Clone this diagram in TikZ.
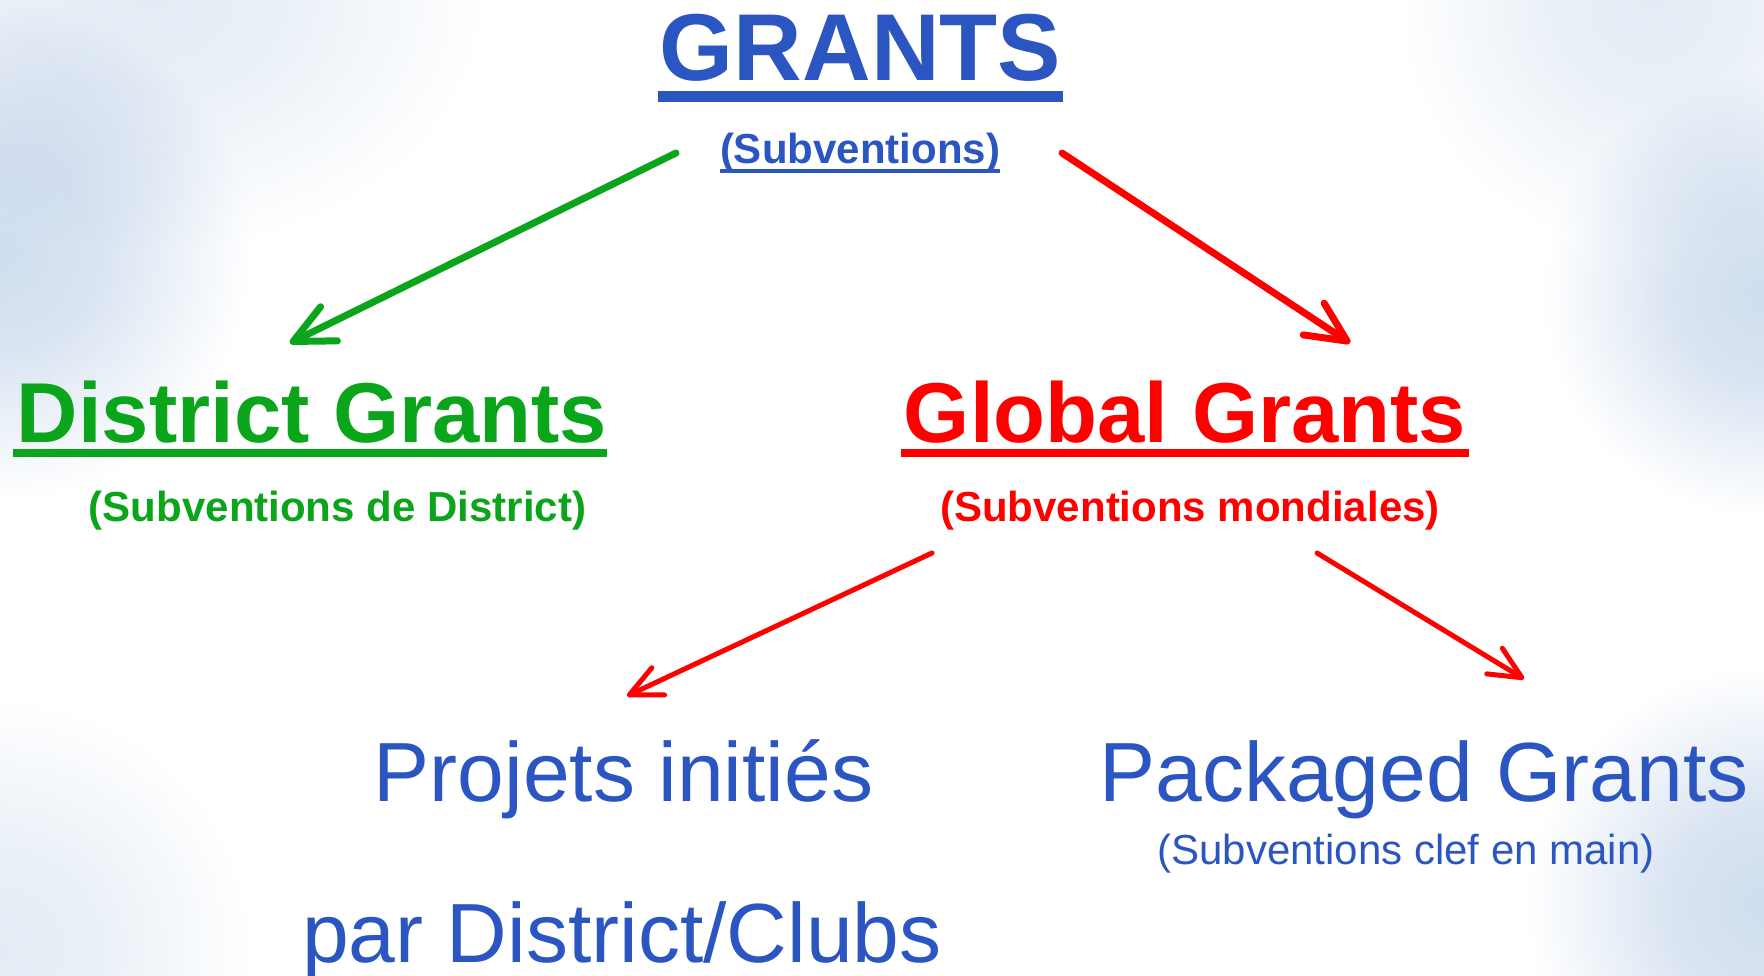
\documentclass[tikz,border=0pt]{standalone}
\usepackage{fontspec}
\setmainfont{Liberation Sans}
\usetikzlibrary{arrows.meta,calc}
\definecolor{tblue}{HTML}{2B55C0}
\definecolor{tgreen}{HTML}{0AA51A}
\definecolor{tred}{HTML}{FF0000}
\definecolor{sky}{HTML}{CFDDEE}
\definecolor{skyl}{HTML}{E4ECF5}
\pgfdeclareradialshading{skyfade}{\pgfpoint{0bp}{0bp}}{color(0bp)=(sky); color(8bp)=(sky!80!white); color(21bp)=(white); color(50bp)=(white)}
\pgfdeclareradialshading{skyfadel}{\pgfpoint{0bp}{0bp}}{color(0bp)=(skyl); color(8bp)=(skyl!80!white); color(21bp)=(white); color(50bp)=(white)}
\tikzset{
  lbl/.style={inner sep=0pt, anchor=base},
  huge/.style={lbl, font=\fontsize{95}{95}\selectfont\bfseries},
  big/.style={lbl, font=\fontsize{85}{85}\selectfont\bfseries},
  sub/.style={lbl, font=\fontsize{42}{42}\selectfont\bfseries},
  plain/.style={lbl, font=\fontsize{84}{84}\selectfont},
  plainsub/.style={lbl, font=\fontsize{42}{42}\selectfont},
  thickarr/.style={line width=7pt, line cap=round, -{Straight Barb[length=40pt,width=38pt,line cap=round,round]}},
  thinarr/.style={line width=5pt, line cap=round, -{Straight Barb[length=32pt,width=30pt,line cap=round,round]}}
}
\begin{document}
\begin{tikzpicture}[x=1pt,y=-1pt]
\useasboundingbox (0,0) rectangle (1764,976);
\clip (0,0) rectangle (1764,976);
\fill[white] (0,0) rectangle (1764,976);
% sky tint
\begin{scope}[blend mode=multiply]
\shade[shading=skyfade] (-300,-50) rectangle (300,550);
\shade[shading=skyfadel] (-250,-300) rectangle (550,300);
\shade[shading=skyfade] (1500,30) rectangle (2030,560);
\shade[shading=skyfadel] (1350,-300) rectangle (1950,300);
\shade[shading=skyfade] (1480,620) rectangle (2050,1190);
\shade[shading=skyfadel] (-300,650) rectangle (300,1250);
\end{scope}

% texts
\node[huge, text=tblue] (grants) at (860.5,81) {GRANTS};
\node[sub, text=tblue] (subv) at (860,164) {(Subventions)};
\node[big, text=tgreen] (district) at (312,442) {District Grants};
\node[big, text=tred] (global) at (1185,442) {Global Grants};
\node[sub, text=tgreen] (subdist) at (337.5,521) {(Subventions de District)};
\node[sub, text=tred] (submond) at (1190,521) {(Subventions mondiales)};
\node[plain, text=tblue] (projets) at (623.5,801) {Projets initiés};
\node[plain, text=tblue] (par) at (622,962) {par District/Clubs};
\node[plain, text=tblue] (packaged) at (1424,801) {Packaged Grants};
\node[plainsub, text=tblue] (clef) at (1406,864) {(Subventions clef en main)};

% underlines
\fill[tblue] ($(grants.base west)+(-2,10)$) rectangle ($(grants.base east)+(2,21)$);
\fill[tblue] ($(subv.base west)+(0,5)$) rectangle ($(subv.base east)+(0,9)$);
\fill[tgreen] ($(district.base west)+(-4,7)$) rectangle ($(district.base east)+(0,15)$);
\fill[tred] ($(global.base west)+(-3,7)$) rectangle ($(global.base east)+(3,15)$);

% arrows
\coordinate (g1) at (676,153);
\coordinate (g2) at (290,343);
\coordinate (r1) at (1062,153);
\coordinate (r2) at (1350,343);
\coordinate (m1) at (932,553);
\coordinate (m2) at (627,696);
\coordinate (n1) at (1317,553);
\coordinate (n2) at (1524,679);
\draw[thickarr, tgreen] (g1) -- (g2);
\draw[thickarr, tred] (r1) -- (r2);
\draw[thinarr, tred] (m1) -- (m2);
\draw[thinarr, tred] (n1) -- (n2);
\end{tikzpicture}
\end{document}
